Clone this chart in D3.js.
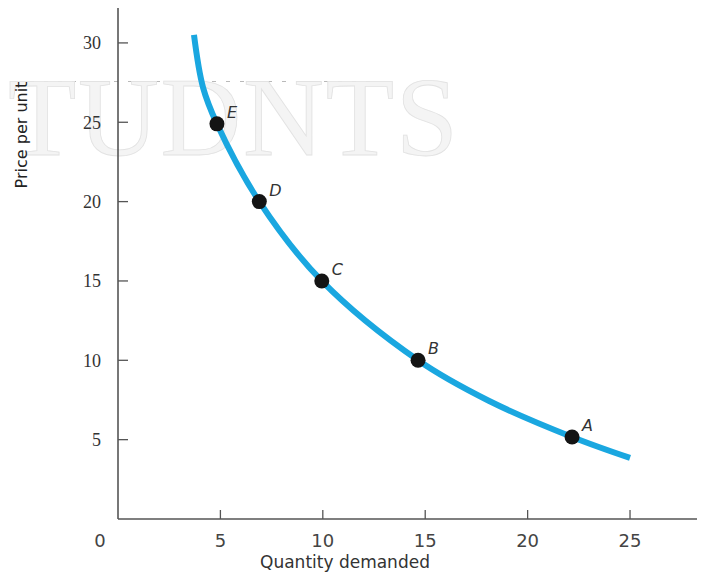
<!DOCTYPE html>
<html>
<head>
<meta charset="utf-8">
<script src="https://cdn.jsdelivr.net/npm/d3@7"></script>
<style>
  html, body { margin: 0; padding: 0; background: #fff; }
  svg { display: block; }
</style>
</head>
<body>
<svg id="chart" width="712" height="574"></svg>
<script>
// ---- data ----
const xTicks = [5, 10, 15, 20, 25];
const yTicks = [5, 10, 15, 20, 25, 30];
const curveQuantity = [3.71, 4.15, 4.83, 6.9, 9.95, 14.65, 18.1, 22.17, 25.0];
const curvePrice    = [30.5, 27.2, 24.9, 20.0, 15.0, 10.0, 7.45, 5.17, 3.85];
const pointLabels   = ["A", "B", "C", "D", "E"];
const pointQuantity = [22.17, 14.65, 9.95, 6.9, 4.83];
const pointPrice    = [5.17, 10.0, 15.0, 20.0, 24.9];
const xTitle = "Quantity demanded";
const yTitle = "Price per unit";
const watermark = "TUDNTS";

// ---- scales ----
const svg = d3.select("#chart");
const x = d3.scaleLinear().domain([0, 28.27]).range([118, 697]);
const y = d3.scaleLinear().domain([0, 32.2]).range([519, 8]);

// watermark (behind)
svg.append("line")
  .attr("x1", 30).attr("x2", 380).attr("y1", 81.5).attr("y2", 81.5)
  .attr("stroke", "#b9b9b9").attr("stroke-width", 1.2)
  .attr("stroke-dasharray", "4 10");
svg.append("text")
  .attr("x", 8).attr("y", 155)
  .attr("font-family", "Liberation Serif, Times New Roman, serif")
  .attr("font-size", 112)
  .attr("textLength", 450)
  .attr("lengthAdjust", "spacing")
  .attr("fill", "#f4f4f4")
  .attr("stroke", "#e2e2e2")
  .attr("stroke-width", 0.8)
  .text(watermark);

// y axis
const gy = svg.append("g").attr("transform", `translate(${x(0)},0)`);
gy.append("line")
  .attr("x1", 0).attr("x2", 0).attr("y1", y(32.2)).attr("y2", y(0))
  .attr("stroke", "#555").attr("stroke-width", 1.6);
gy.selectAll(".yt").data(yTicks).join("line")
  .attr("x1", 0).attr("x2", 10)
  .attr("y1", d => y(d)).attr("y2", d => y(d))
  .attr("stroke", "#555").attr("stroke-width", 1.3);
gy.selectAll(".yl").data(yTicks).join("text")
  .attr("x", -17).attr("y", d => y(d)).attr("dy", "0.35em")
  .attr("text-anchor", "end")
  .attr("font-family", "Liberation Serif, Times New Roman, serif")
  .attr("font-size", 18).attr("fill", "#333")
  .text(d => d);

// x axis
const gx = svg.append("g").attr("transform", `translate(0,${y(0)})`);
gx.append("line")
  .attr("x1", x(0)).attr("x2", x(28.27)).attr("y1", 0).attr("y2", 0)
  .attr("stroke", "#555").attr("stroke-width", 1.6);
gx.selectAll(".xt").data(xTicks).join("line")
  .attr("x1", d => x(d)).attr("x2", d => x(d))
  .attr("y1", 0).attr("y2", -9)
  .attr("stroke", "#555").attr("stroke-width", 1.3);
gx.selectAll(".xl").data(xTicks).join("text")
  .attr("x", d => x(d)).attr("y", 28)
  .attr("text-anchor", "middle")
  .attr("font-family", "DejaVu Sans, sans-serif")
  .attr("font-size", 18).attr("fill", "#444")
  .text(d => d);
gx.append("text")
  .attr("x", x(0) - 18).attr("y", 28)
  .attr("text-anchor", "middle")
  .attr("font-family", "DejaVu Sans, sans-serif")
  .attr("font-size", 18).attr("fill", "#444")
  .text("0");

// titles
svg.append("text")
  .attr("x", 345).attr("y", 568)
  .attr("text-anchor", "middle")
  .attr("font-family", "DejaVu Sans, sans-serif")
  .attr("font-size", 17).attr("fill", "#333")
  .text(xTitle);
svg.append("text")
  .attr("transform", "translate(27,135) rotate(-90)")
  .attr("text-anchor", "middle")
  .attr("font-family", "DejaVu Sans, sans-serif")
  .attr("font-size", 16).attr("fill", "#222")
  .text(yTitle);

// demand curve
const curveData = curveQuantity.map((q, i) => [q, curvePrice[i]]);
svg.append("path")
  .datum(curveData)
  .attr("fill", "none")
  .attr("stroke", "#1aa7e0")
  .attr("stroke-width", 6)
  .attr("d", d3.line().x(d => x(d[0])).y(d => y(d[1])).curve(d3.curveCatmullRom.alpha(0.5)));

// points
const pts = pointLabels.map((l, i) => ({ l, q: pointQuantity[i], p: pointPrice[i] }));
svg.selectAll(".pt").data(pts).join("circle")
  .attr("cx", d => x(d.q)).attr("cy", d => y(d.p)).attr("r", 7.5)
  .attr("fill", "#141414");
svg.selectAll(".pl").data(pts).join("text")
  .attr("x", d => x(d.q) + 10).attr("y", d => y(d.p) - 6)
  .attr("font-family", "DejaVu Sans, sans-serif")
  .attr("font-style", "italic")
  .attr("font-size", 16).attr("fill", "#333")
  .text(d => d.l);
</script>
</body>
</html>
